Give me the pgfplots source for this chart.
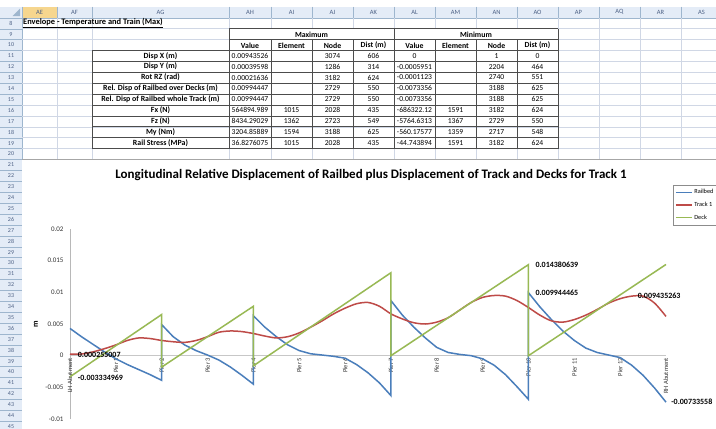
\documentclass[border=0pt]{standalone}
\usepackage{fontspec}
\setmainfont{Carlito}
\usepackage{pgfplots}
\pgfplotsset{compat=1.18}
\definecolor{rail}{HTML}{4A7EBB}
\definecolor{track}{HTML}{BE4B48}
\definecolor{deck}{HTML}{98B954}
\definecolor{gridc}{HTML}{D0D7E5}
\definecolor{hdr}{HTML}{E4ECF7}
\definecolor{hdrline}{HTML}{9EB6CE}
\definecolor{hdrtxt}{HTML}{4D6185}
\definecolor{selhdr}{HTML}{F6D68E}
\newcommand\fs[1]{\fontsize{#1}{#1}\selectfont}
\tikzset{tb/.style={draw=black!70, line width=0.8bp}}

\begin{document}
\begin{tikzpicture}
\useasboundingbox (0,0) rectangle (716bp,-429bp);
\clip (0,0) rectangle (716bp,-429bp);
\begin{scope}[x=1bp,y=-1bp]
  % sheet headers
  \fill[hdr] (0,6.5) rectangle (716,17.8);
  \fill[hdr] (0,17.8) rectangle (22,429);
  \fill[selhdr] (22,6.5) rectangle (57,17.8);
  \fill[hdrline] (20,16) -- (20,8.5) -- (12.5,16) -- cycle;
  \foreach \xx in {22,57,92,229,271,312,353,394,435,476,517,558,599,640,681}
    \draw[hdrline, line width=0.5bp] (\xx,6.5) -- (\xx,17.8);
  \draw[hdrline, line width=0.5bp] (0,17.8) -- (716,17.8);
  \draw[hdrline, line width=0.5bp] (22,17.8) -- (22,429);
  \foreach \n in {0,...,38}
    \draw[hdrline, line width=0.4bp] (0,{17.8+\n*10.9}) -- (22,{17.8+\n*10.9});
  \foreach \cx/\t in {39.5/AE,74.5/AF,160.5/AG,250/AH,291.5/AI,332.5/AJ,373.5/AK,414.5/AL,455.5/AM,496.5/AN,537.5/AO,578.5/AP,619.5/AQ,660.5/AR,701.5/AS}
    \node[font=\fs{6.5bp}, text=hdrtxt, inner sep=0] at (\cx,12.3) {\t};
  \foreach \n in {8,...,45}
    \node[font=\fs{6bp}, text=hdrtxt, inner sep=0] at (11,{23.25+(\n-8)*10.9}) {\n};
  % cell gridlines
  \foreach \xx in {57,92,229,271,312,353,394,435,476,517,558,599,640,681}
    \draw[gridc, line width=0.5bp] (\xx,17.8) -- (\xx,159.5);
  \foreach \n in {1,...,12}
    \draw[gridc, line width=0.5bp] (22,{17.8+\n*10.9}) -- (716,{17.8+\n*10.9});
  % table
  \node[font=\bfseries\fs{8.4bp}, anchor=west, inner sep=0] at (23,23.25) {\underline{Envelope - Temperature and Train (Max)}};
  \fill[white] (229.4,29.1) rectangle (557.6,39.2);
  \draw[tb] (229,28.7) -- (558,28.7);
  \draw[tb] (229,39.6) -- (558,39.6);
  \foreach \k in {0,...,9}
    \draw[tb] (92,{50.5+\k*10.9}) -- (558,{50.5+\k*10.9});
  \foreach \xx in {229,394,558}
    \draw[tb] (\xx,28.7) -- (\xx,148.6);
  \foreach \xx in {271,312,353,435,476,517}
    \draw[tb] (\xx,39.6) -- (\xx,148.6);
  \draw[tb] (92,50.5) -- (92,148.6);
  \node[font=\bfseries\fs{7.8bp}, inner sep=0] at (311.5,34.4) {Maximum};
  \node[font=\bfseries\fs{7.8bp}, inner sep=0] at (476,34.4) {Minimum};
  \foreach \cx/\t in {250/Value,291.5/Element,332.5/Node,373.5/Dist (m),414.5/Value,455.5/Element,496.5/Node,537.5/Dist (m)}
    \node[font=\bfseries\fs{7.8bp}, inner sep=0] at (\cx,45.3) {\t};
  \foreach \rw/\lab/\va/\vb/\vc/\vd/\ve/\vf/\vg/\vh in {
    11/Disp X (m)/0.00943526/{}/3074/606/0/{}/1/0,
    12/Disp Y (m)/0.00039598/{}/1286/314/-0.0005951/{}/2204/464,
    13/Rot RZ (rad)/0.00021636/{}/3182/624/-0.0001123/{}/2740/551,
    14/Rel. Disp of Railbed over Decks (m)/0.00994447/{}/2729/550/-0.0073356/{}/3188/625,
    15/Rel. Disp of Railbed whole Track (m)/0.00994447/{}/2729/550/-0.0073356/{}/3188/625,
    16/Fx (N)/564894.989/1015/2028/435/-686322.12/1591/3182/624,
    17/Fz (N)/8434.29029/1362/2723/549/-5764.6313/1367/2729/550,
    18/My (Nm)/3204.85889/1594/3188/625/-560.17577/1359/2717/548,
    19/Rail Stress (MPa)/36.8276075/1015/2028/435/-44.743894/1591/3182/624}{
    \pgfmathsetmacro\yc{23.0+(\rw-8)*10.9}
    \node[font=\bfseries\fs{7.9bp}, inner sep=0] at (160.5,\yc) {\lab};
    \node[font=\fs{7.6bp}, inner sep=0] at (250,\yc) {\va};
    \node[font=\fs{7.6bp}, inner sep=0] at (291.5,\yc) {\vb};
    \node[font=\fs{7.6bp}, inner sep=0] at (332.5,\yc) {\vc};
    \node[font=\fs{7.6bp}, inner sep=0] at (373.5,\yc) {\vd};
    \node[font=\fs{7.6bp}, inner sep=0] at (414.5,\yc) {\ve};
    \node[font=\fs{7.6bp}, inner sep=0] at (455.5,\yc) {\vf};
    \node[font=\fs{7.6bp}, inner sep=0] at (496.5,\yc) {\vg};
    \node[font=\fs{7.6bp}, inner sep=0] at (537.5,\yc) {\vh};
  }
  % chart area
  \fill[white] (22.3,159.5) rectangle (716,429);
  \draw[black!35, line width=0.6bp] (22.3,159.5) -- (716,159.5);
  \node[font=\bfseries\fs{13bp}] at (371,175) {Longitudinal Relative Displacement of Railbed plus Displacement of Track and Decks for Track 1};
\end{scope}

\begin{axis}[
  at={(70bp,-419bp)}, anchor=south west,
  scale only axis, width=596bp, height=190bp,
  xmin=0, xmax=13, ymin=-0.01, ymax=0.02,
  axis x line*=middle, axis y line*=left,
  x axis line style={draw=black!22, line width=1.3bp},
  y axis line style={draw=black!28, line width=0.8bp},
  xtick={0,...,13},
  xticklabels={LH Abutment,Pier 1,Pier 2,Pier 3,Pier 4,Pier 5,Pier 6,Pier 7,Pier 8,Pier 9,Pier 10,Pier 11,Pier 12,RH Abutment},
  ytick={-0.01,-0.005,0,0.005,0.01,0.015,0.02},
  yticklabels={-0.01,-0.005,0,0.005,0.01,0.015,0.02},
  scaled y ticks=false,
  major tick length=0pt,
  hide obscured x ticks=false, hide obscured y ticks=false,
  x tick label style={rotate=90, anchor=east, font=\fs{6.5bp}, text=black!80, inner sep=2bp},
  y tick label style={font=\fs{7bp}, text=black!80, xshift=-3bp},
  clip=false,
  ylabel={m},
  ylabel style={font=\bfseries\fs{8bp}, at={(axis description cs:-0.057,0.5)}, anchor=center},
  legend style={at={(axis description cs:1.0117,1.2316)}, anchor=north west,
    draw=black!45, fill=white, font=\fs{6.3bp}, inner xsep=2bp, inner ysep=2bp,
    row sep=3bp, cells={anchor=west}},
  legend image code/.code={\draw[#1, line width=1.2bp] (0bp,0bp) -- (16bp,0bp);},
  every axis plot/.append style={line width=1.5bp},
]
\addplot[rail] coordinates {
 (0,0.0043) (0.25,0.0030) (0.5,0.0018) (0.75,0.0006) (1,-0.0005) (1.25,-0.0014)
 (1.5,-0.0022) (1.75,-0.0030) (2,-0.0039)
 (2,0.0049) (2.25,0.0030) (2.5,0.0017) (2.75,0.0008) (3,0.0001) (3.25,-0.0007)
 (3.5,-0.0018) (3.75,-0.0031) (4,-0.0045)
 (4,0.0063) (4.25,0.0045) (4.5,0.0030) (4.75,0.0017) (5,0.0008) (5.25,0.0003)
 (5.5,0.0001) (5.75,-0.0001) (6,-0.0004) (6.25,-0.0014) (6.5,-0.0027) (6.75,-0.0043) (7,-0.0063)
 (7,0.0087) (7.25,0.0064) (7.5,0.0045) (7.75,0.0028) (8,0.0013) (8.25,0.0005)
 (8.5,0.0002) (8.75,0.0) (9,-0.0005) (9.25,-0.0015) (9.5,-0.0030) (9.75,-0.0049) (10,-0.0069)
 (10,0.00994) (10.25,0.0077) (10.5,0.0057) (10.75,0.0039) (11,0.0024) (11.25,0.0012)
 (11.5,0.0005) (11.75,0.0001) (12,-0.0003) (12.25,-0.0015) (12.5,-0.0031) (12.75,-0.0051) (13,-0.00734)
};
\addlegendentry{Railbed}
\addplot[track, smooth] coordinates {
 (0,0.000255) (0.25,0.00026) (0.5,0.0006) (0.75,0.0011) (1,0.0017) (1.25,0.0024)
 (1.5,0.0028) (1.75,0.0027) (2,0.0024) (2.25,0.0022) (2.5,0.0021) (2.75,0.0024)
 (3,0.0030) (3.25,0.0037) (3.5,0.0039) (3.75,0.0038) (4,0.0035) (4.25,0.0031)
 (4.5,0.0028) (4.75,0.0030) (5,0.0036) (5.25,0.0045) (5.5,0.0055) (5.75,0.0066)
 (6,0.0075) (6.25,0.0082) (6.5,0.0084) (6.75,0.0078) (7,0.0066) (7.25,0.0058)
 (7.5,0.0052) (7.75,0.0050) (8,0.0053) (8.25,0.0060) (8.5,0.0072) (8.75,0.0084)
 (9,0.0092) (9.25,0.0095) (9.5,0.0094) (9.75,0.0087) (10,0.0076) (10.25,0.0064)
 (10.5,0.0055) (10.75,0.0053) (11,0.0057) (11.25,0.0064) (11.5,0.0073) (11.75,0.0083)
 (12,0.0090) (12.25,0.0094) (12.5,0.0094) (12.75,0.0083) (13,0.0062)
};
\addlegendentry{Track 1}
\addplot[deck] coordinates {
 (0,-0.00333) (2,0.0065) (2,-0.0018) (4,0.0078) (4,-0.0016) (7,0.0131)
 (7,0) (10,0.01438) (10,0) (13,0.0144)
};
\addlegendentry{Deck}
\node[font=\bfseries\fs{8bp}, anchor=west, inner sep=0] at (axis cs:0.168,0.0002) {0.000255007};
\node[font=\bfseries\fs{8bp}, anchor=west, inner sep=0] at (axis cs:0.168,-0.00343) {-0.003334969};
\node[font=\bfseries\fs{8bp}, anchor=west, inner sep=0] at (axis cs:10.15,0.01432) {0.014380639};
\node[font=\bfseries\fs{8bp}, anchor=west, inner sep=0] at (axis cs:10.15,0.0099) {0.009944465};
\node[font=\bfseries\fs{8bp}, anchor=west, inner sep=0] at (axis cs:12.38,0.00947) {0.009435263};
\node[font=\bfseries\fs{8bp}, anchor=west, inner sep=0] at (axis cs:13.11,-0.00722) {-0.00733558};
\end{axis}
\end{tikzpicture}
\end{document}
